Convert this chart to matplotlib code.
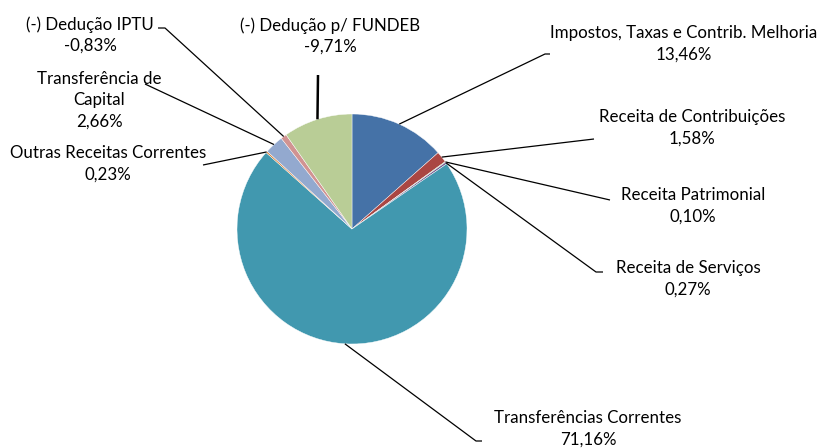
import numpy as np
import matplotlib
matplotlib.use("Agg")
import matplotlib.pyplot as plt

# data, clockwise from 12 o'clock
labels = ["Impostos, Taxas e Contrib. Melhoria", "Receita de Contribuições",
          "Receita Patrimonial", "Receita de Serviços", "Transferências Correntes",
          "Outras Receitas Correntes", "Transferência de\nCapital",
          "(-) Dedução IPTU", "(-) Dedução p/ FUNDEB"]
values = [13.46, 1.58, 0.10, 0.27, 71.16, 0.23, 2.66, -0.83, -9.71]
colors = ["#4572A7", "#AA4643", "#89A54E", "#71588F", "#4198AF",
          "#DB843D", "#93A9CF", "#D19392", "#B9CD96"]

W, H = 825, 448
cx, cy, r = 352, H - 229, 115

# label text centre (px from top-left) and leader elbow points
text_pos = [(684, 44), (692, 128), (693, 206), (688, 279), (588, 429),
            (108, 164), (99, 100), (90, 35), (330, 36)]
elbows = [[(545, 54), (550, 54)],
          [(594, 139)],
          [(610, 200)],
          [(596, 272), (603, 272)],
          [(476, 441), (482, 441)],
          [(203, 165)],
          [(145, 84)],
          [(165, 28), (158, 28)],
          [(318, 75)]]

plt.rcParams['font.family'] = ['Lato', 'DejaVu Sans']
fig = plt.figure(figsize=(W / 100, H / 100), dpi=100)
ax = fig.add_axes([0, 0, 1, 1])

sizes = np.abs(values)
wedges, _ = ax.pie(sizes, colors=colors, startangle=90, counterclock=False,
                   center=(cx, cy), radius=r, frame=True,
                   wedgeprops=dict(linewidth=0.3, edgecolor='white'))
ax.set_xlim(0, W)
ax.set_ylim(0, H)
ax.set_aspect('auto')
ax.axis('off')

for i, w in enumerate(wedges):
    mid = np.deg2rad((w.theta1 + w.theta2) / 2)
    x0 = cx + r * np.cos(mid)
    y0 = cy + r * np.sin(mid)
    xs = [x0] + [p[0] for p in elbows[i]]
    ys = [y0] + [H - p[1] for p in elbows[i]]
    lw = 1.8 if i == 8 else 0.9
    ax.plot(xs, ys, color='black', lw=lw, solid_capstyle='butt')
    pct = ("%.2f%%" % values[i]).replace('.', ',')
    tx, ty = text_pos[i]
    ax.text(tx, H - ty, labels[i] + "\n" + pct, ha='center', va='center',
            fontsize=12.2, linespacing=1.4, color='black')

fig.savefig("out.png", dpi=100)
